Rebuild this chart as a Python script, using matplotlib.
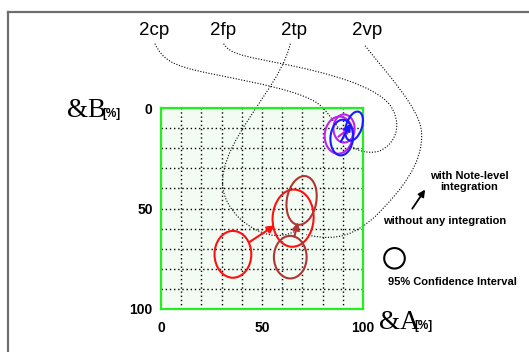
import numpy as np
import matplotlib
matplotlib.use('Agg')
import matplotlib.pyplot as plt
from matplotlib.patches import Ellipse, PathPatch, FancyArrowPatch
from matplotlib.path import Path
from matplotlib.lines import Line2D

W, H = 529, 352

# ellipses: (x, y, width, height, angle)
red_ell = [(35.6, 72.8, 18.2, 23.3, 0), (65.4, 54.8, 20.3, 28.5, 3)]
brown_ell = [(69.6, 46.0, 14.6, 24.5, 10), (64.0, 74.2, 16.2, 21.2, 0)]
purple_ell = [(88.0, 13.5, 13.9, 18.5, 5), (90.6, 10.2, 10.5, 14.0, 0)]
blue_ell = [(95.6, 9.0, 7.8, 15.0, 18), (89.5, 14.7, 11.2, 17.8, 5)]

# arrows: (start, end)
red_arrow = ((43.9, 66.6), (56.4, 58.4))
brown_arrow = ((66.0, 64.1), (67.8, 56.8))
purple_arrow = ((87.8, 14.3), (94.4, 9.0))
blue_arrow = ((89.0, 16.8), (94.0, 7.5))

# label texts over the plot and the bezier control points of their curves
curve_labels = ['2cp', '2fp', '2tp', '2vp']
label_x = [154.5, 222.8, 293.7, 366.8]
curves = {
    '2cp': [(-3, -32), (1, -24), (5, -21), (25, -17),
            (50, -12), (70, -8), (78, -2),
            (83, 2), (85, 7), (89, 11)],
    '2fp': [(31, -32), (34, -27), (40, -26), (60, -22),
            (85, -17), (105, -11), (113, -2),
            (119, 6), (118, 17), (108, 21.5),
            (102, 23), (97, 21), (94, 19)],
    '2tp': [(64, -32), (60, -15), (45, 0), (35, 20),
            (28, 35), (29, 45), (39, 55),
            (48, 63), (58, 66), (67, 61)],
    '2vp': [(101, -31), (112, -17), (128, 0), (129, 12),
            (130, 28), (118, 42), (106, 54),
            (97, 62), (88, 67), (72, 63)],
}

gridticks = np.arange(10, 100, 10)


def fx(x):
    return x / W


def fy(y):
    return 1 - y / H


fig = plt.figure(figsize=(W / 100, H / 100), dpi=100)
fig.patch.set_facecolor('white')

# outer grey frame (only top/left visible)
fig.add_artist(Line2D([fx(7.5), 1.0], [fy(11.5), fy(11.5)], color='#6e6e6e', lw=1.6,
                      transform=fig.transFigure))
fig.add_artist(Line2D([fx(7.5), fx(7.5)], [fy(11.5), 0.0], color='#6e6e6e', lw=1.6,
                      transform=fig.transFigure))

ax = fig.add_axes([fx(161), fy(309), 202 / W, 201 / H])
ax.set_facecolor('#f3fcf3')
ax.set_xlim(0, 100)
ax.set_ylim(100, 0)
for s in ax.spines.values():
    s.set_color('#22ee22')
    s.set_linewidth(1.6)
for g in gridticks:
    ax.axvline(g, color='black', lw=1.0, ls=(0, (1, 2)), zorder=1)
    ax.axhline(g, color='black', lw=1.0, ls=(0, (1, 2)), zorder=1)
ax.set_xticks([0, 50, 100])
ax.set_yticks([0, 50, 100])
ax.set_xticklabels(['0', '50', '100'], fontsize=10, fontweight='bold', family='Liberation Sans')
ax.set_yticklabels(['0', '50', '100'], fontsize=10, fontweight='bold', family='Liberation Sans')
ax.tick_params(axis='x', length=0, pad=9)
ax.tick_params(axis='y', length=0, pad=6)

# dotted connector curves
for name in curve_labels:
    pts = curves[name]
    codes = [Path.MOVETO] + [Path.CURVE4] * (len(pts) - 1)
    patch = PathPatch(Path(pts, codes), fill=False, ec='black', lw=0.8,
                      ls=(0, (1, 1.5)), clip_on=False, zorder=2)
    ax.add_patch(patch)

for lst, col in [(red_ell, '#ff1010'), (brown_ell, '#b03535'),
                 (purple_ell, '#c020f0'), (blue_ell, '#1a1aff')]:
    for (x, y, w, h, a) in lst:
        ax.add_patch(Ellipse((x, y), w, h, angle=a, fill=False, ec=col, lw=1.5,
                             zorder=3, clip_on=False))

for (st, en), col in [(red_arrow, '#ff1010'), (brown_arrow, '#b03535'),
                      (purple_arrow, '#c020f0'), (blue_arrow, '#1a1aff')]:
    ax.annotate('', xy=en, xytext=st,
                arrowprops=dict(arrowstyle='-|>', color=col, lw=1.5,
                                mutation_scale=11, shrinkA=0, shrinkB=0),
                zorder=4)

# top labels
for name, x in zip(curve_labels, label_x):
    fig.text(fx(x), fy(35), name, ha='center', va='baseline', fontsize=13.5,
             family='Liberation Sans')

# axis labels
fig.text(fx(67), fy(117), '&B', ha='left', va='baseline', fontsize=19.5,
         family='Liberation Serif')
fig.text(fx(102), fy(116.5), '[%]', ha='left', va='baseline', fontsize=8.5,
         fontweight='bold', family='Liberation Sans')
fig.text(fx(379), fy(329), '&A', ha='left', va='baseline', fontsize=19.5,
         family='Liberation Serif')
fig.text(fx(414), fy(329), '[%]', ha='left', va='baseline', fontsize=8.5,
         fontweight='bold', family='Liberation Sans')

# legend-like annotations
bold = dict(fontsize=8, fontweight='bold', family='Liberation Sans')
fig.text(fx(469), fy(181.5), 'with Note-level\nintegration', ha='center', va='center',
         linespacing=1.15, **bold)
fig.text(fx(444.7), fy(220.5), 'without any integration', ha='center', va='center', **bold)
fig.text(fx(452.3), fy(282), '95% Confidence Interval', ha='center', va='center', **bold)
fig.add_artist(FancyArrowPatch(
    (fx(410.7), fy(211)), (fx(426.7), fy(187.3)), transform=fig.transFigure,
    arrowstyle='-|>', mutation_scale=10, color='black', lw=1.3))
ax.add_patch(Ellipse(((394.5 - 161) / 2.02, (258.3 - 108) / 2.01), 10.2, 10.2,
                     fill=False, ec='black', lw=1.5, clip_on=False))

fig.savefig('out.png', dpi=100)
